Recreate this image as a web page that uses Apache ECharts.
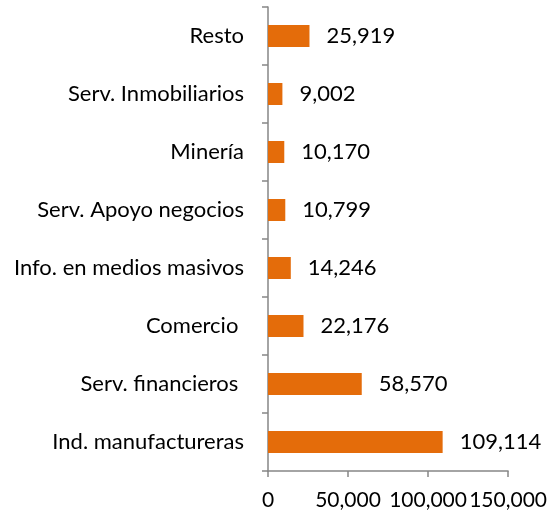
<!DOCTYPE html>
<html>
<head>
<meta charset="utf-8">
<script src="https://cdn.jsdelivr.net/npm/echarts@6/dist/echarts.min.js"></script>
<style>
	html, body { margin: 0; padding: 0; background: #fff; }
	#chart { width: 550px; height: 520px; }
</style>
</head>
<body>
<div id="chart"></div>
<script>
const categories = ['Ind. manufactureras', 'Serv. financieros ', 'Comercio ', 'Info. en medios masivos', 'Serv. Apoyo negocios', 'Minería', 'Serv. Inmobiliarios', 'Resto'];
const values = [109114, 58570, 22176, 14246, 10799, 10170, 9002, 25919];
const xTicks = [0, 50000, 100000, 150000];

const fmt = v => String(v).replace(/\B(?=(\d{3})+(?!\d))/g, ',');
const axisColor = '#868686';
const font = 'Lato, "Open Sans", sans-serif';

const chart = echarts.init(document.getElementById('chart'));
chart.setOption({
	animation: false,
	textStyle: { fontFamily: font },
	grid: {
		left: 268,
		right: 41,
		top: 7,
		bottom: 49
	},
	xAxis: {
		type: 'value',
		min: xTicks[0],
		max: xTicks[xTicks.length - 1],
		interval: 50000,
		splitLine: { show: false },
		axisLine: { show: true, lineStyle: { color: axisColor, width: 1.5 } },
		axisTick: { show: true, length: 6, lineStyle: { color: axisColor, width: 1.5 } },
		axisLabel: {
			color: '#000',
			fontSize: 21,
			fontFamily: font,
			margin: 19,
			showMinLabel: true,
			showMaxLabel: true,
			hideOverlap: false,
			formatter: v => fmt(v)
		}
	},
	yAxis: {
		type: 'category',
		data: categories,
		axisLine: { show: true, lineStyle: { color: axisColor, width: 1.5 } },
		axisTick: { show: true, length: 6, lineStyle: { color: axisColor, width: 1.5 } },
		axisLabel: {
			color: '#000',
			fontSize: 22,
			fontFamily: font,
			margin: 24
		}
	},
	series: [
		{
			type: 'bar',
			data: values,
			barCategoryGap: '62%',
			itemStyle: {
				color: '#E46C0A'
			},
			label: {
				show: true,
				position: 'right',
				distance: 17,
				color: '#000',
				fontSize: 22,
				fontFamily: font,
				formatter: p => fmt(p.value)
			}
		}
	]
});
</script>
</body>
</html>
